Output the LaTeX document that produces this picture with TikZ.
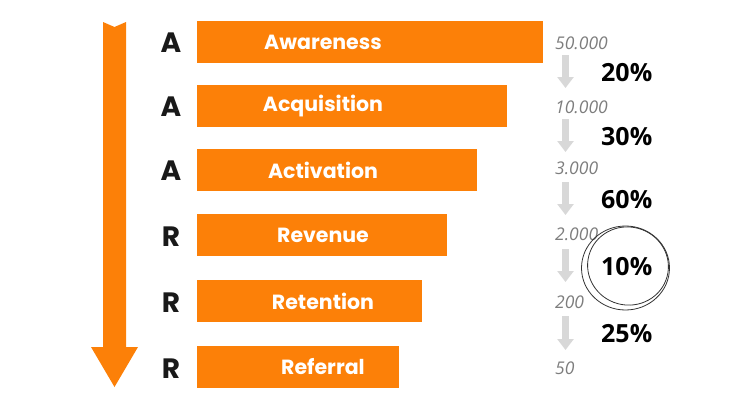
\documentclass[tikz,border=0pt]{standalone}
\usepackage{fontspec}
\newfontfamily\pop{Poppins}
\newfontfamily\osans{Open Sans}
\usetikzlibrary{arrows.meta}
\definecolor{aorange}{RGB}{252,128,8}
\definecolor{agrey}{RGB}{125,125,125}
\definecolor{alight}{RGB}{216,216,216}
\tikzset{
  bar/.style={fill=aorange, draw=none, anchor=north west, minimum height=42pt, inner sep=0pt},
  barlabel/.style={text=white, font=\pop\bfseries\fontsize{20.5}{20.5}\selectfont, inner sep=0pt},
  letter/.style={text=black!90, font=\pop\bfseries\fontsize{28}{28}\selectfont, inner sep=0pt},
  num/.style={text=agrey, font=\osans\itshape\fontsize{17.5}{17.5}\selectfont, anchor=west, inner sep=0pt},
  pct/.style={text=black, font=\osans\bfseries\fontsize{25}{25}\selectfont, anchor=west, inner sep=0pt},
  flow/.style={draw=alight, line width=7pt, -{Triangle[width=16pt,length=11pt]}},
  sketch/.style={draw=black!80, line width=0.8pt},
}
\begin{document}
\begin{tikzpicture}[x=1pt,y=-1pt]
\useasboundingbox (0,0) rectangle (750,418);
% big arrow
\fill[aorange] (103,22) -- (114.5,27) -- (126,22) -- (126,347) -- (138,347) -- (114.5,387) -- (91,347) -- (103,347) -- cycle;
% bars
\node[bar, minimum width=346pt] (b1) at (197,21) {};
\node[bar, minimum width=310pt] (b2) at (197,85) {};
\node[bar, minimum width=280pt] (b3) at (197,149) {};
\node[bar, minimum width=250pt] (b4) at (197,214) {};
\node[bar, minimum width=225pt] (b5) at (197,280) {};
\node[bar, minimum width=202pt] (b6) at (197,346) {};
% bar labels
\node[barlabel] (l1) at (323,42) {Awareness};
\node[barlabel] (l2) at (323,106) {Acquisition};
\node[barlabel] (l3) at (323,170) {Activation};
\node[barlabel] (l4) at (323,235) {Revenue};
\node[barlabel] (l5) at (323,301) {Retention};
\node[barlabel] (l6) at (323,367) {Referral};
% letters
\node[letter] (a1) at (171,43) {A};
\node[letter] (a2) at (171,107) {A};
\node[letter] (a3) at (171,171) {A};
\node[letter] (r1) at (171,237) {R};
\node[letter] (r2) at (171,303) {R};
\node[letter] (r3) at (171,369) {R};
% numbers
\node[num] (n1) at (555,43) {50.000};
\node[num] (n2) at (555,107) {10.000};
\node[num] (n3) at (555,168) {3.000};
\node[num] (n4) at (555,234) {2.000};
\node[num] (n5) at (555,302) {200};
\node[num] (n6) at (555,368) {50};
% grey arrows
\coordinate (t1) at (565.5,55); \coordinate (h1) at (565.5,88);
\coordinate (t2) at (565.5,119); \coordinate (h2) at (565.5,152);
\coordinate (t3) at (565.5,182); \coordinate (h3) at (565.5,215);
\coordinate (t4) at (565.5,249); \coordinate (h4) at (565.5,282);
\coordinate (t5) at (565.5,316); \coordinate (h5) at (565.5,350);
\foreach \i in {1,...,5} \draw[flow] (t\i) -- (h\i);
% percentages
\node[pct] (p1) at (601,73) {20\%};
\node[pct] (p2) at (601,137) {30\%};
\node[pct] (p3) at (601,200) {60\%};
\node[pct] (p4) at (601,267) {10\%};
\node[pct] (p5) at (601,334) {25\%};
% hand-drawn circle
\draw[sketch] (625.5,268) ellipse [x radius=44, y radius=42];
\draw[sketch, rotate around={-15:(628,266)}] (628,266) ellipse [x radius=40.5, y radius=39];
\end{tikzpicture}
\end{document}
